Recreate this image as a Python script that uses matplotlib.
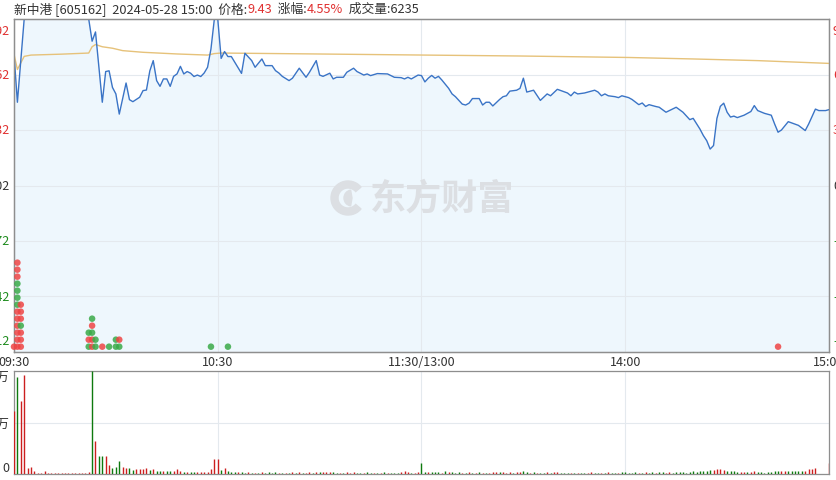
import matplotlib
matplotlib.use("Agg")
import matplotlib.pyplot as plt
from matplotlib.transforms import offset_copy, blended_transform_factory
from matplotlib.patches import Wedge

plt.rcParams['font.family'] = ['Noto Sans CJK SC', 'DejaVu Sans']

# ---- data ----
prev_close = 9.02

# price line vertices (minute index from 09:30, price)
price_minutes = [0, 1, 3, 22, 23, 24, 26, 27, 28, 29, 30, 31, 33, 34, 35, 37, 38, 39,
                 40, 41, 42, 43, 44, 45, 46, 47, 48, 49, 50, 51, 52, 53, 54, 55, 56,
                 57, 58, 59, 60, 61, 62, 63, 64, 67, 68, 70, 71, 73, 74, 76, 77, 78,
                 79, 81, 82, 84, 86, 87, 89, 90, 91, 93, 94, 95, 97, 98, 100, 101,
                 103, 104, 105, 107, 110, 112, 114, 115, 116, 117, 119, 120, 121, 122,
                 123, 124, 125, 126, 128, 129, 130, 132, 133, 134, 135, 137, 138, 139,
                 140, 141, 143, 144, 145, 146, 148, 149, 150, 151, 153, 155, 157, 158,
                 160, 163, 164, 165, 166, 168, 171, 172, 173, 174, 175, 177, 178, 179,
                 181, 182, 184, 185, 186, 187, 189, 190, 192, 195, 197, 199, 200, 202,
                 203, 204, 205, 206, 207, 208, 209, 210, 211, 212, 213, 215, 217, 218,
                 219, 221, 223, 224, 225, 226, 228, 231, 233, 234, 236, 237, 239, 240]
price_values = [9.73, 9.47, 9.92, 9.92, 9.80, 9.85, 9.47, 9.636, 9.64, 9.55, 9.515, 9.406,
                9.574, 9.484, 9.473, 9.497, 9.533, 9.536, 9.64, 9.695, 9.587, 9.556,
                9.596, 9.596, 9.556, 9.61, 9.623, 9.664, 9.623, 9.636, 9.627, 9.609,
                9.617, 9.609, 9.628, 9.659, 9.758, 9.92, 9.92, 9.707, 9.744, 9.717,
                9.717, 9.626, 9.735, 9.695, 9.659, 9.704, 9.668, 9.668, 9.641, 9.628,
                9.61, 9.587, 9.60, 9.654, 9.605, 9.632, 9.695, 9.617, 9.61, 9.627,
                9.596, 9.605, 9.605, 9.632, 9.654, 9.636, 9.617, 9.623, 9.614, 9.625,
                9.623, 9.605, 9.603, 9.596, 9.605, 9.596, 9.617, 9.614, 9.58, 9.60,
                9.615, 9.60, 9.61, 9.59, 9.545, 9.515, 9.50, 9.46, 9.455, 9.465, 9.49,
                9.49, 9.455, 9.47, 9.47, 9.45, 9.485, 9.50, 9.505, 9.53, 9.535, 9.545,
                9.60, 9.525, 9.535, 9.48, 9.515, 9.505, 9.54, 9.52, 9.505, 9.525, 9.515,
                9.52, 9.535, 9.525, 9.505, 9.515, 9.505, 9.50, 9.495, 9.505, 9.495,
                9.485, 9.457, 9.466, 9.447, 9.457, 9.447, 9.443, 9.416, 9.443, 9.416,
                9.376, 9.383, 9.325, 9.29, 9.262, 9.217, 9.236, 9.383, 9.448, 9.465,
                9.416, 9.39, 9.395, 9.387, 9.40, 9.42, 9.452, 9.425, 9.41, 9.40, 9.352,
                9.308, 9.32, 9.365, 9.345, 9.317, 9.352, 9.433, 9.425, 9.425, 9.43]

# average price line vertices
avg_minutes = [0, 1, 3, 5, 14, 22, 23, 24, 26, 29, 32, 38, 48, 57, 59, 61, 89, 121,
               149, 181, 200, 219, 240]
avg_values = [9.73, 9.647, 9.718, 9.725, 9.73, 9.736, 9.77, 9.782, 9.77, 9.762, 9.749,
              9.74, 9.731, 9.725, 9.733, 9.736, 9.731, 9.725, 9.72, 9.712, 9.704,
              9.695, 9.68]

# per-minute volume (lots), 09:30 .. 15:00, and whether the minute closed up (1) or down (0)
volume = [35000, 53500, 40600, 54800, 3300, 4050, 1500, 740, 740, 1500,
          740, 400, 300, 300, 500, 300, 300, 500, 300, 700,
          500, 500, 900, 57000, 18400, 9800, 9800, 9800, 5000, 3300,
          3700, 7000, 4050, 3300, 3300, 2200, 2600, 2600, 2600, 3300,
          2200, 2800, 1850, 1850, 1850, 1650, 1650, 1850, 2600, 1500,
          1300, 1100, 1100, 1300, 1300, 1100, 1300, 1300, 2800, 8300,
          8300, 2200, 3300, 1850, 1100, 1100, 900, 900, 700, 900,
          700, 700, 700, 900, 700, 1300, 700, 900, 700, 700,
          700, 500, 900, 700, 900, 500, 700, 900, 700, 1100,
          900, 1300, 1300, 1100, 900, 700, 500, 700, 900, 700,
          900, 700, 500, 700, 900, 500, 700, 500, 700, 900,
          500, 700, 500, 700, 900, 1500, 1300, 700, 500, 900,
          6000, 1300, 900, 900, 1300, 1100, 700, 1500, 1100, 900,
          700, 900, 700, 700, 900, 700, 700, 900, 700, 500,
          700, 900, 1300, 900, 900, 700, 900, 700, 900, 1300,
          1500, 900, 700, 900, 700, 500, 700, 900, 700, 900,
          1300, 700, 700, 500, 700, 700, 500, 700, 500, 700,
          900, 700, 500, 700, 500, 900, 500, 700, 500, 900,
          900, 700, 700, 1300, 700, 700, 900, 700, 900, 700,
          900, 1100, 700, 900, 700, 1300, 900, 1100, 700, 1300,
          1500, 1100, 1500, 1500, 1900, 2200, 2200, 2600, 2600, 2200,
          1900, 1500, 1500, 1100, 900, 900, 1100, 1300, 1500, 900,
          900, 700, 900, 1300, 1500, 1900, 1500, 1900, 1500, 1900,
          1900, 1500, 1900, 1500, 2600, 2600, 3300, 0, 0, 0,
          6235]
volume_up = [1, 0, 1, 1, 1, 1, 1, 1, 1, 1,
             1, 1, 1, 1, 1, 1, 1, 1, 1, 1,
             1, 1, 1, 0, 1, 0, 0, 1, 1, 0,
             0, 0, 1, 1, 0, 0, 1, 1, 1, 1,
             0, 1, 0, 0, 1, 0, 0, 1, 1, 1,
             0, 1, 0, 0, 1, 1, 1, 1, 1, 1,
             1, 0, 1, 0, 0, 0, 1, 0, 0, 1,
             0, 1, 0, 1, 0, 0, 0, 0, 1, 0,
             1, 0, 1, 0, 1, 0, 1, 1, 0, 1,
             0, 1, 1, 1, 0, 0, 1, 0, 1, 1,
             1, 0, 0, 1, 0, 0, 1, 0, 1, 0,
             1, 0, 0, 0, 1, 1, 1, 0, 1, 1,
             0, 0, 1, 0, 0, 0, 1, 0, 1, 0,
             0, 0, 1, 0, 1, 0, 1, 0, 1, 0,
             1, 1, 1, 0, 1, 1, 1, 0, 1, 1,
             0, 0, 1, 0, 1, 0, 0, 1, 0, 1,
             1, 0, 0, 0, 1, 0, 1, 0, 0, 1,
             1, 0, 0, 1, 0, 1, 0, 0, 1, 0,
             0, 0, 0, 0, 1, 0, 1, 0, 0, 1,
             0, 0, 1, 1, 0, 0, 0, 0, 0, 0,
             0, 0, 0, 0, 0, 0, 1, 1, 1, 1,
             0, 0, 0, 0, 1, 1, 0, 1, 1, 0,
             0, 0, 0, 0, 0, 0, 1, 1, 0, 0,
             0, 0, 0, 1, 1, 1, 1, 1, 1, 1,
             1]

# big-order markers: minute, stack level, buy (1 red) / sell (0 green)
dot_minutes = [0, 1, 1, 1, 1, 1, 1, 1, 1, 1, 1, 1, 1, 1, 2, 2, 2, 2, 2, 2, 2,
               22, 22, 22, 23, 23, 23, 23, 23, 24, 24, 26, 28, 30, 30, 31, 31, 58, 63, 225]
dot_levels = [0, 0, 1, 2, 3, 4, 5, 6, 7, 8, 9, 10, 11, 12, 0, 1, 2, 3, 4, 5, 6,
              0, 1, 2, 0, 1, 2, 3, 4, 0, 1, 0, 0, 0, 1, 0, 1, 0, 0, 0]
dot_buy = [1, 1, 1, 1, 1, 1, 1, 0, 0, 0, 0, 1, 1, 1, 1, 1, 1, 0, 1, 1, 1,
           0, 1, 0, 1, 1, 0, 1, 0, 0, 0, 1, 0, 0, 0, 0, 1, 0, 0, 1]

price_ticks = [8.12, 8.42, 8.72, 9.02, 9.32, 9.62, 9.92]
pct_labels = ['-9.98%', '-6.65%', '-3.33%', '0.00%', '3.33%', '6.65%', '9.98%']
time_ticks = [0, 60, 120, 180, 240]
time_labels = ['09:30', '10:30', '11:30/13:00', '14:00', '15:00']
vol_ticks = [0, 28500, 57000]
vol_labels = ['0', '2.85万', '5.7万']

RED = '#e03030'
GREEN = '#1e8c1e'
GRAY = '#333333'
GRID = '#e4e9ee'
SPINE = '#8e8e8e'


def tick_color(v):
    if abs(v - prev_close) < 1e-6:
        return GRAY
    return RED if v > prev_close else GREEN


fig = plt.figure(figsize=(8.37, 4.81), dpi=100)
W, H = 837.0, 481.0
ax = fig.add_axes([14 / W, 1 - 353 / H, 815 / W, 333 / H])
axv = fig.add_axes([14 / W, 1 - 475 / H, 815 / W, 103 / H])

# ---- price panel ----
ax.fill_between(price_minutes, price_values, price_ticks[0], color='#eef7fd', lw=0, zorder=1)
ax.plot(price_minutes, price_values, color='#3a74c6', lw=1.0, zorder=4)
ax.plot(avg_minutes, avg_values, color='#e6c27a', lw=1.0, zorder=3)
ax.set_xlim(0, 240)
ax.set_ylim(price_ticks[0], price_ticks[-1])
ax.set_yticks(price_ticks)
ax.set_yticklabels([])
ax.set_xticks(time_ticks)
ax.set_xticklabels(time_labels, fontsize=9, color=GRAY)
ax.tick_params(length=0)
ax.tick_params(axis='x', pad=2)
ax.grid(True, color=GRID, lw=0.8, zorder=0)

# price / percent labels on both sides, end labels nudged inside the panel
left_tr = blended_transform_factory(ax.transAxes, ax.transData)
n = len(price_ticks)
for i, (v, pct) in enumerate(zip(price_ticks, pct_labels)):
    dy = 11 if i == 0 else (-12 if i == n - 1 else 0)
    ax.text(0, v, '%.2f' % v, ha='right', va='center', fontsize=9, color=tick_color(v),
            transform=offset_copy(left_tr, fig=fig, x=-4, y=dy, units='dots'), clip_on=False)
    ax.text(1, v, pct, ha='left', va='center', fontsize=9, color=tick_color(v),
            transform=offset_copy(left_tr, fig=fig, x=4, y=dy, units='dots'), clip_on=False)

# big-order dots on their own stacked scale
axd = ax.twinx()
axd.set_ylim(-0.76, 46.8)
axd.set_yticks([])
axd.scatter(dot_minutes, dot_levels, s=22,
            c=['#ee4444' if b else '#3aaa48' for b in dot_buy],
            alpha=0.85, lw=0, zorder=5, clip_on=False)

for a in (ax, axd):
    for sp in a.spines.values():
        sp.set_color(SPINE)
        sp.set_linewidth(0.9)

# ---- volume panel ----
axv.vlines(range(len(volume)), 0, volume,
           colors=[('#cc1f1f' if u else '#0e7a0e') for u in volume_up], lw=1.0, zorder=3)
axv.set_xlim(0, 240)
axv.set_ylim(0, vol_ticks[-1])
axv.set_yticks(vol_ticks)
axv.set_yticklabels(vol_labels, fontsize=9, color=GRAY)
axv.get_yticklabels()[0].set_va('bottom')
axv.get_yticklabels()[-1].set_va('top')
axv.set_xticks(time_ticks)
axv.set_xticklabels([])
axv.tick_params(length=0, pad=3)
axv.grid(True, color=GRID, lw=0.8, zorder=0)
for sp in axv.spines.values():
    sp.set_color(SPINE)
    sp.set_linewidth(0.9)

# watermark: rough logo mark + name
wm = '#dcdfe3'
fig.patches.append(Wedge((348, H - 199), 17, 40, 320, width=7, color=wm, transform=None))
fig.patches.append(Wedge((352, H - 199), 8, 100, 260, color=wm, transform=None))
fig.text(442 / W, 1 - 199 / H, '东方财富', fontsize=26, fontweight='bold',
         color=wm, ha='center', va='center', zorder=0)

# header line
parts = [('新中港 [605162]  2024-05-28 15:00  价格:', GRAY), ('9.43', RED),
         ('  涨幅:', GRAY), ('4.55%', RED), ('  成交量:6235', GRAY)]
prev = fig.text(14 / W, 1 - 9 / H, parts[0][0], fontsize=9.2, color=parts[0][1],
                ha='left', va='center')
for s, c in parts[1:]:
    prev = ax.annotate(s, xy=(1, 0), xycoords=prev, va='bottom', ha='left',
                       fontsize=9.2, color=c, annotation_clip=False)

fig.savefig('out.png', dpi=100)
